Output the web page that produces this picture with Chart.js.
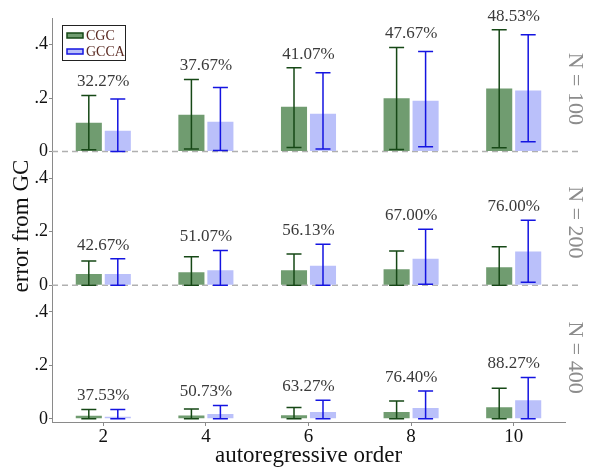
<!DOCTYPE html>
<html>
<head>
<meta charset="utf-8">
<script src="https://cdn.jsdelivr.net/npm/chart.js@4"></script>
<style>
  html, body { margin: 0; padding: 0; background: #fff; }
  #wrap { width: 600px; height: 471px; }
</style>
</head>
<body>
<div id="wrap"><canvas id="myChart" width="600" height="471"></canvas></div>
<script>
const orders = ["2", "4", "6", "8", "10"];
const panelLabels = ["N = 100", "N = 200", "N = 400"];

// N = 100
const cgc100 = [0.108, 0.138, 0.168, 0.200, 0.236];
const cgc100Lo = [0.007, 0.010, 0.015, 0.008, 0.014];
const cgc100Hi = [0.210, 0.270, 0.314, 0.390, 0.456];
const gcca100 = [0.078, 0.112, 0.142, 0.190, 0.229];
const gcca100Lo = [0.000, 0.004, 0.010, 0.018, 0.037];
const gcca100Hi = [0.197, 0.240, 0.295, 0.375, 0.437];
const pct100 = [32.27, 37.67, 41.07, 47.67, 48.53];

// N = 200
const cgc200 = [0.042, 0.048, 0.056, 0.060, 0.067];
const cgc200Lo = [0.000, 0.000, 0.000, 0.000, 0.000];
const cgc200Hi = [0.091, 0.106, 0.117, 0.128, 0.144];
const gcca200 = [0.042, 0.056, 0.073, 0.099, 0.126];
const gcca200Lo = [0.000, 0.000, 0.000, 0.004, 0.011];
const gcca200Hi = [0.099, 0.130, 0.153, 0.209, 0.243];
const pct200 = [42.67, 51.07, 56.13, 67.00, 76.00];

// N = 400
const cgc400 = [0.011, 0.012, 0.013, 0.025, 0.043];
const cgc400Lo = [0.000, 0.000, 0.000, 0.000, 0.000];
const cgc400Hi = [0.035, 0.037, 0.042, 0.067, 0.114];
const gcca400 = [0.008, 0.018, 0.025, 0.040, 0.069];
const gcca400Lo = [0.000, 0.000, 0.000, 0.000, 0.000];
const gcca400Hi = [0.035, 0.050, 0.069, 0.104, 0.155];
const pct400 = [37.53, 50.73, 63.27, 76.40, 88.27];

const yTicks = [0, 0.2, 0.4];

const serif = "'Liberation Serif', 'DejaVu Serif', serif";
const cgcFill = "rgb(112, 156, 112)";
const cgcDark = "rgb(22, 72, 22)";
const gccaFill = "rgb(186, 192, 250)";
const gccaDark = "rgb(20, 20, 225)";

function bars(label, stack, axis, values, lo, hi, fill, dark) {
  return {
    label: label,
    stack: stack,
    yAxisID: axis,
    data: values,
    errLo: lo,
    errHi: hi,
    errColor: dark,
    backgroundColor: fill,
    borderWidth: 0,
    categoryPercentage: 0.565,
    barPercentage: 0.9,
  };
}

const data = {
  labels: orders,
  datasets: [
    bars("CGC", "cgc", "y100", cgc100, cgc100Lo, cgc100Hi, cgcFill, cgcDark),
    bars("CGC", "cgc", "y200", cgc200, cgc200Lo, cgc200Hi, cgcFill, cgcDark),
    bars("CGC", "cgc", "y400", cgc400, cgc400Lo, cgc400Hi, cgcFill, cgcDark),
    bars("GCCA", "gcca", "y100", gcca100, gcca100Lo, gcca100Hi, gccaFill, gccaDark),
    bars("GCCA", "gcca", "y200", gcca200, gcca200Lo, gcca200Hi, gccaFill, gccaDark),
    bars("GCCA", "gcca", "y400", gcca400, gcca400Lo, gcca400Hi, gccaFill, gccaDark),
  ],
};

const panels = [
  { axis: "y100", pct: pct100, cgcHi: cgc100Hi, gccaHi: gcca100Hi, dashed: true },
  { axis: "y200", pct: pct200, cgcHi: cgc200Hi, gccaHi: gcca200Hi, dashed: true },
  { axis: "y400", pct: pct400, cgcHi: cgc400Hi, gccaHi: gcca400Hi, dashed: false },
];

function yAxis(min, weight) {
  return {
    type: "linear",
    position: "left",
    stack: "panels",
    stackWeight: weight,
    stacked: false,
    min: min,
    max: 0.5,
    afterFit: (scale) => { scale.width = 52; },
    afterBuildTicks: (scale) => { scale.ticks = yTicks.map(v => ({ value: v })); },
    border: { display: true, color: "#8a8a8a", width: 1 },
    grid: { drawOnChartArea: false, tickLength: 3, color: "#8a8a8a" },
    ticks: {
      padding: 1,
      color: "#111",
      font: { family: serif, size: 18 },
      callback: (v) => v === 0 ? "0" : "." + Math.round(v * 10),
    },
  };
}

// zero lines, error bars, percentages, side labels and legend
const extras = {
  id: "extras",
  beforeDatasetsDraw(chart) {
    const ctx = chart.ctx;
    const area = chart.chartArea;
    ctx.save();
    ctx.strokeStyle = "#b0b0b0";
    ctx.lineWidth = 1.5;
    ctx.setLineDash([6, 4]);
    for (const p of panels) {
      if (!p.dashed) continue;
      const y = chart.scales[p.axis].getPixelForValue(0);
      ctx.beginPath();
      ctx.moveTo(area.left, y);
      ctx.lineTo(area.right + 17, y);
      ctx.stroke();
    }
    ctx.restore();
  },
  afterDatasetsDraw(chart) {
    const ctx = chart.ctx;
    const area = chart.chartArea;
    ctx.save();

    // error bars
    chart.data.datasets.forEach((ds, i) => {
      const meta = chart.getDatasetMeta(i);
      const yScale = chart.scales[ds.yAxisID];
      ctx.strokeStyle = ds.errColor;
      ctx.lineWidth = 1.5;
      meta.data.forEach((bar, j) => {
        const x = bar.x;
        const yLo = yScale.getPixelForValue(ds.errLo[j]);
        const yHi = yScale.getPixelForValue(ds.errHi[j]);
        ctx.beginPath();
        ctx.moveTo(x, yLo);
        ctx.lineTo(x, yHi);
        ctx.moveTo(x - 7.5, yLo);
        ctx.lineTo(x + 7.5, yLo);
        ctx.moveTo(x - 7.5, yHi);
        ctx.lineTo(x + 7.5, yHi);
        ctx.stroke();
      });
    });

    // percentages above each group
    const xScale = chart.scales.x;
    ctx.fillStyle = "#3a3a3a";
    ctx.font = "17px " + serif;
    ctx.textAlign = "center";
    ctx.textBaseline = "alphabetic";
    for (const p of panels) {
      const yScale = chart.scales[p.axis];
      p.pct.forEach((v, j) => {
        const top = Math.max(p.cgcHi[j], p.gccaHi[j]);
        const x = xScale.getPixelForValue(j);
        const y = yScale.getPixelForValue(top) - 9;
        ctx.fillText(v.toFixed(2) + "%", x, y);
      });
    }

    // panel labels on the right
    ctx.fillStyle = "#8c8c8c";
    ctx.font = "22px " + serif;
    ctx.textBaseline = "middle";
    panels.forEach((p, k) => {
      const s = chart.scales[p.axis];
      const cy = (s.top + s.bottom) / 2 + 4;
      ctx.save();
      ctx.translate(area.right + 10, cy);
      ctx.rotate(Math.PI / 2);
      ctx.fillText(panelLabels[k], 0, 0);
      ctx.restore();
    });

    // y title
    ctx.fillStyle = "#111";
    ctx.font = "23px " + serif;
    ctx.save();
    ctx.translate(22, (area.top + area.bottom) / 2 + 6);
    ctx.rotate(-Math.PI / 2);
    ctx.fillText("error from GC", 0, 0);
    ctx.restore();

    // legend
    ctx.fillStyle = "#fff";
    ctx.fillRect(62.5, 25.5, 63, 35);
    ctx.strokeStyle = "#222";
    ctx.lineWidth = 1;
    ctx.strokeRect(62.5, 25.5, 63, 35);
    ctx.lineWidth = 1.5;
    ctx.fillStyle = cgcFill;
    ctx.fillRect(67, 33, 16, 5);
    ctx.strokeStyle = cgcDark;
    ctx.strokeRect(67, 33, 16, 5);
    ctx.fillStyle = gccaFill;
    ctx.fillRect(67, 49, 16, 5);
    ctx.strokeStyle = gccaDark;
    ctx.strokeRect(67, 49, 16, 5);
    ctx.fillStyle = "#5a2a22";
    ctx.font = "14px " + serif;
    ctx.textAlign = "left";
    ctx.fillText("CGC", 86, 36);
    ctx.fillText("GCCA", 86, 52);

    ctx.restore();
  },
};

const config = {
  type: "bar",
  data: data,
  options: {
    responsive: false,
    animation: false,
    layout: { padding: { top: 18, right: 35, left: 0, bottom: 0 } },
    plugins: {
      legend: { display: false },
      tooltip: { enabled: false },
    },
    scales: {
      x: {
        type: "category",
        offset: true,
        afterFit: (scale) => { scale.height = 49; },
        border: { display: true, color: "#8a8a8a", width: 1 },
        grid: { display: true, drawOnChartArea: false, offset: false, tickLength: 4, color: "#8a8a8a" },
        ticks: { padding: 0, color: "#111", font: { family: serif, size: 19 } },
        title: {
          display: true,
          text: "autoregressive order",
          color: "#111",
          font: { family: serif, size: 23 },
          padding: { top: 0, bottom: 1 },
        },
      },
      // stacked from the bottom up
      y400: yAxis(-0.012, 0.512),
      y200: yAxis(0, 0.5),
      y100: yAxis(0, 0.5),
    },
  },
  plugins: [extras],
};

const myChart = new Chart(document.getElementById("myChart"), config);
</script>
</body>
</html>
